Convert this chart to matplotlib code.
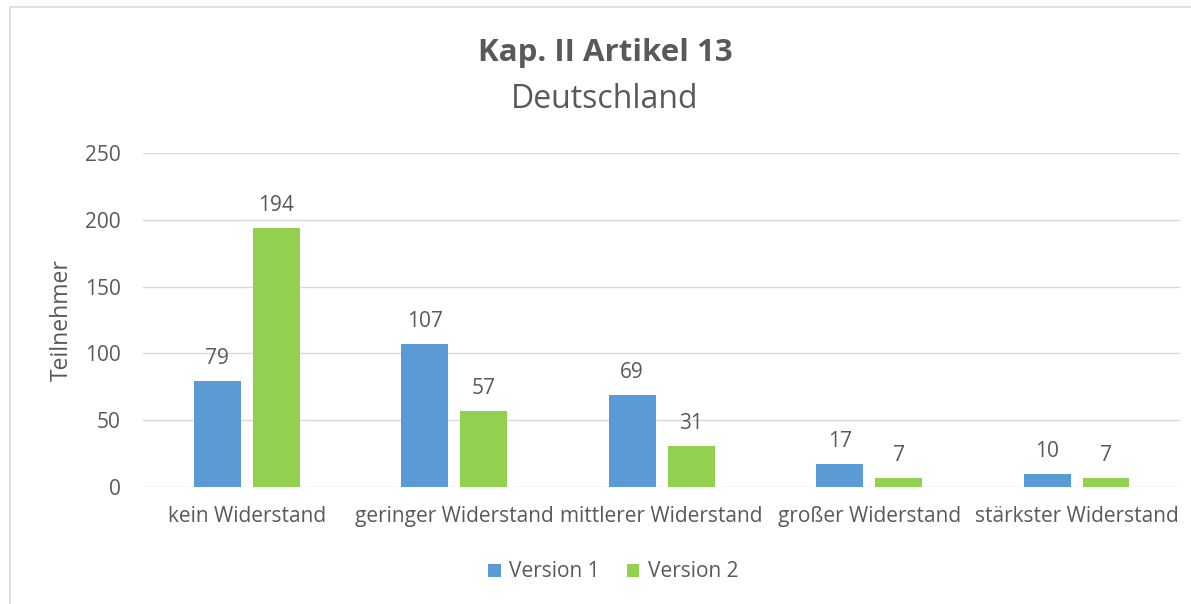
import matplotlib.pyplot as plt
import numpy as np
from matplotlib.patches import Rectangle

plt.rcParams['font.family'] = ['Open Sans', 'DejaVu Sans']

categories = ["kein Widerstand", "geringer Widerstand", "mittlerer Widerstand",
              "großer Widerstand", "stärkster Widerstand"]
version1 = [79, 107, 69, 17, 10]
version2 = [194, 57, 31, 7, 7]
series_names = ["Version 1", "Version 2"]

text_col = "#595959"
blue = "#5B9BD5"
green = "#92D050"

fig = plt.figure(figsize=(11.91, 6.04), dpi=100)
ax = fig.add_axes([0.120, 0.1937, 0.871, 0.553])

# chart border
fig.patches.append(Rectangle((10 / 1191, -0.01), 1.0, 1 - 7 / 604 + 0.01,
                             transform=fig.transFigure, fill=False,
                             edgecolor="#d9d9d9", linewidth=1.2))

x = np.arange(len(categories))
w = 0.226
gap = 0.058
b1 = ax.bar(x - (w + gap) / 2, version1, w, color=blue, label=series_names[0])
b2 = ax.bar(x + (w + gap) / 2, version2, w, color=green, label=series_names[1])

for bars, vals in [(b1, version1), (b2, version2)]:
    for r, v in zip(bars, vals):
        ax.text(r.get_x() + r.get_width() / 2, v + 9, str(v), ha="center",
                va="bottom", fontsize=15, color=text_col)

ax.set_xlim(-0.5, len(categories) - 0.5)
ax.set_ylim(0, 250)
ax.set_yticks(range(0, 251, 50))
ax.set_xticks(x)
ax.set_xticklabels(categories)
ax.tick_params(axis="both", length=0, labelsize=15, colors=text_col)
ax.tick_params(axis="y", pad=16)
ax.tick_params(axis="x", pad=14)
ax.grid(axis="y", color="#d9d9d9", linewidth=1)
ax.set_axisbelow(True)
for s in ax.spines.values():
    s.set_visible(False)
ax.set_ylabel("Teilnehmer", fontsize=16.5, color=text_col, labelpad=8)

fig.text(0.508, 0.912, "Kap. II Artikel 13", ha="center", va="center",
         fontsize=22.5, fontweight="bold", color=text_col)
fig.text(0.508, 0.836, "Deutschland", ha="center", va="center",
         fontsize=23, color=text_col)

fig.legend(handles=[b1, b2], loc="center", bbox_to_anchor=(0.515, 0.053),
           ncol=2, frameon=False, fontsize=15, labelcolor=text_col,
           handlelength=0.6, handleheight=0.6, columnspacing=1.3,
           handletextpad=0.4)

fig.savefig("out.png", dpi=100)
